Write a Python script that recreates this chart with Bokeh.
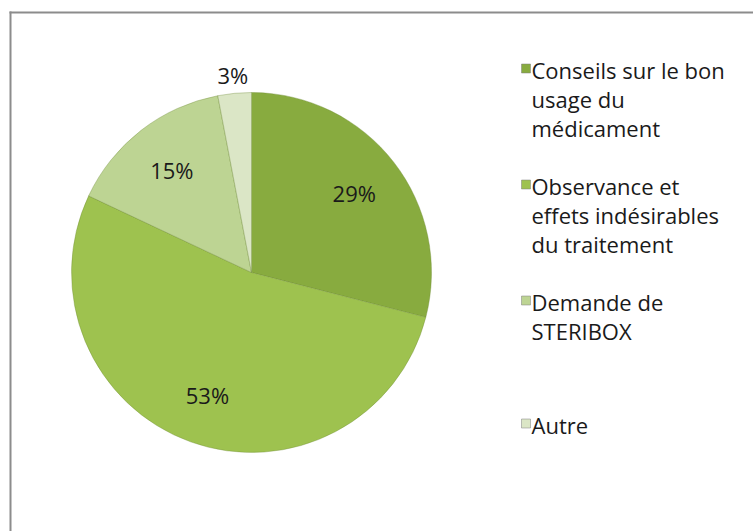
import numpy as np
from bokeh.plotting import figure
from bokeh.models import Range1d, ColumnDataSource
from bokeh.core.properties import value
from bokeh.embed import file_html
from bokeh.resources import INLINE

# ---- data ----
categories = ["Conseils sur le bon usage du médicament",
              "Observance et effets indésirables du traitement",
              "Demande de STERIBOX",
              "Autre"]
legend_lines = [["Conseils sur le bon", "usage du", "médicament"],
                ["Observance et", "effets indésirables", "du traitement"],
                ["Demande de", "STERIBOX"],
                ["Autre"]]
percents = [29, 53, 15, 3]
colors = ["#88ab3f", "#9ec24f", "#bdd493", "#dbe6c6"]

# ---- layout (frame units == pixels) ----
FW, FH = 753, 531
p = figure(width=753, height=531, output_backend="svg", toolbar_location=None,
           x_range=Range1d(0, FW), y_range=Range1d(0, FH),
           min_border_left=0, min_border_top=0, min_border_right=0, min_border_bottom=0)
p.axis.visible = False
p.grid.visible = False
p.outline_line_color = None
p.background_fill_color = "white"
p.border_fill_color = "white"

def py(page_y):
    return FH - page_y

def px(page_x):
    return page_x

# chart-area border (only top and left edges fall inside the window)
p.segment(x0=[px(9), px(10)], y0=[py(12), py(11)], x1=[FW, px(10)], y1=[py(12), 0],
          line_color="#8c8c8c", line_width=2)

cx, cy, R = px(251), py(272), 180

vals = np.array(percents, dtype=float)
frac = vals / vals.sum()
cum = np.concatenate([[0], np.cumsum(frac)])
start = np.pi / 2 - 2 * np.pi * cum[:-1]
end = np.pi / 2 - 2 * np.pi * cum[1:]
mid = (start + end) / 2

src = ColumnDataSource(dict(start=start, end=end, color=colors,
                            x=[cx] * 4, y=[cy] * 4))
p.wedge(x="x", y="y", radius=R, start_angle="start", end_angle="end",
        direction="clock", fill_color="color", line_color="#6e8a34",
        line_width=0.6, line_alpha=0.6, source=src)

# labels
rl = np.where(frac < 0.05, 198, 130)
lx = cx + rl * np.cos(mid)
ly = cy + rl * np.sin(mid)
p.text(x=lx, y=ly, text=[f"{v:g}%" for v in percents],
       text_font=value("Open Sans"), text_font_size="22px",
       text_align="center", text_baseline="middle", text_color="#1a1a1a")

# legend
first_y = [69, 185, 301, 424]
line_h = 29
for i, lines in enumerate(legend_lines):
    y0 = first_y[i]
    p.rect(x=[px(525.5)], y=[py(y0 - 1)], width=9, height=9,
           fill_color=colors[i], line_color="#7f7f7f", line_width=0.5)
    ys = [py(y0 + k * line_h) for k in range(len(lines))]
    p.text(x=[px(531)] * len(lines), y=ys, text=lines,
           text_font=value("Open Sans"), text_font_size="22px",
           text_align="left", text_baseline="middle", text_color="#1a1a1a")

open("out.html", "w").write(file_html(p, INLINE))
